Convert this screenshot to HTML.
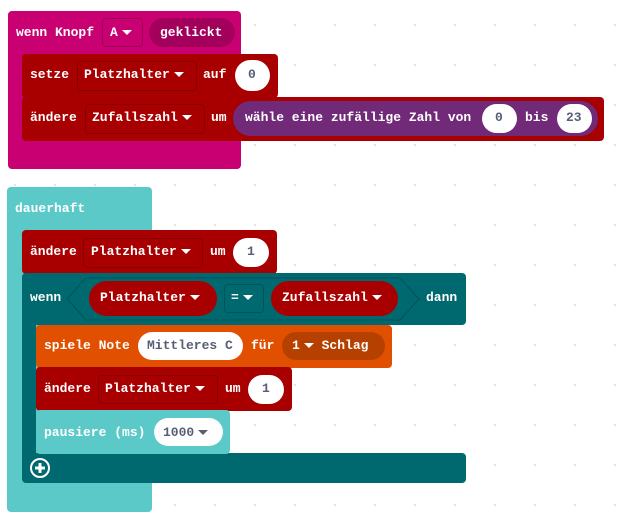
<!DOCTYPE html>
<html><head><meta charset="utf-8"><style>
html,body{margin:0;padding:0;width:617px;height:523px;overflow:hidden;background:#fff;
background-image:radial-gradient(circle,#e4e4e4 1px,transparent 1.5px);background-size:40px 40px;background-position:-5px 5px}
.b{position:absolute}
.t{position:absolute;font-family:"Liberation Mono",monospace;font-weight:bold;font-size:13px;color:#fff;white-space:pre;line-height:16px}
.dd{position:absolute;border:1px solid rgba(0,0,0,0.2);border-radius:4px;box-sizing:border-box}
.ov{position:absolute;background:#fff;border-radius:16px}
.pill{position:absolute;border-radius:18px}
.tri{display:inline-block;width:0;height:0;border-left:5px solid transparent;border-right:5px solid transparent;border-top:5px solid #fff;vertical-align:middle;margin-left:4px}
.dk{color:#575e75}
</style></head><body>
<!-- top event block -->
<div class="b" style="left:8px;top:11px;width:233px;height:158px;background:#C90072;border-radius:4px"></div>
<div class="t" style="left:16px;top:25px">wenn Knopf</div>
<div class="dd" style="left:102px;top:18px;width:41px;height:29px"></div>
<div class="t" style="left:110px;top:25px">A<span class="tri"></span></div>
<div class="pill" style="left:149px;top:18px;width:86px;height:29px;background:#A3005C"></div>
<div class="t" style="left:160px;top:25px">geklickt</div>

<div class="b" style="left:22px;top:54px;width:256px;height:44px;background:#A80000;border-radius:4px"></div>
<div class="t" style="left:30px;top:67px">setze</div>
<div class="dd" style="left:77px;top:61px;width:120px;height:30px"></div>
<div class="t" style="left:84px;top:67px">Platzhalter<span class="tri"></span></div>
<div class="t" style="left:203px;top:67px">auf</div>
<div class="ov" style="left:235px;top:60px;width:35px;height:31px"></div>
<div class="t dk" style="left:248px;top:67px">0</div>

<div class="b" style="left:22px;top:97px;width:582px;height:44px;background:#A80000;border-radius:4px"></div>
<div class="t" style="left:30px;top:110px">ändere</div>
<div class="dd" style="left:85px;top:104px;width:120px;height:30px"></div>
<div class="t" style="left:92px;top:110px">Zufallszahl<span class="tri"></span></div>
<div class="t" style="left:211px;top:110px">um</div>
<div class="pill" style="left:233px;top:101px;width:365px;height:35px;background:#702A78"></div>
<div class="t" style="left:245px;top:110px">wähle eine zufällige Zahl von</div>
<div class="ov" style="left:482px;top:104px;width:35px;height:29px"></div>
<div class="t dk" style="left:495px;top:110px">0</div>
<div class="t" style="left:525px;top:110px">bis</div>
<div class="ov" style="left:557px;top:104px;width:35px;height:29px"></div>
<div class="t dk" style="left:566px;top:110px">23</div>

<!-- dauerhaft -->
<div class="b" style="left:7px;top:187px;width:145px;height:325px;background:#5CC9C9;border-radius:4px"></div>
<div class="t" style="left:15px;top:201px">dauerhaft</div>

<div class="b" style="left:22px;top:230px;width:255px;height:44px;background:#A80000;border-radius:4px"></div>
<div class="t" style="left:30px;top:244px">ändere</div>
<div class="dd" style="left:83px;top:238px;width:120px;height:30px"></div>
<div class="t" style="left:91px;top:244px">Platzhalter<span class="tri"></span></div>
<div class="t" style="left:210px;top:244px">um</div>
<div class="ov" style="left:233px;top:238px;width:36px;height:29px"></div>
<div class="t dk" style="left:247px;top:244px">1</div>

<!-- wenn -->
<div class="b" style="left:22px;top:273px;width:444px;height:52px;background:#006970;border-radius:4px"></div>
<div class="b" style="left:22px;top:320px;width:14px;height:140px;background:#006970"></div>
<div class="b" style="left:22px;top:453px;width:444px;height:30px;background:#006970;border-radius:4px"></div>
<div class="t" style="left:30px;top:290px">wenn</div>
<svg class="b" style="left:66px;top:277px" width="354" height="44"><polygon points="20,1 334,1 353,22 334,43 20,43 1,22" fill="#006970" stroke="#005259" stroke-width="1"/></svg>
<div class="pill" style="left:89px;top:281px;width:128px;height:35px;background:#A80000"></div>
<div class="t" style="left:100px;top:290px">Platzhalter<span class="tri"></span></div>
<div class="dd" style="left:224px;top:284px;width:40px;height:29px"></div>
<div class="t" style="left:231px;top:290px">=<span class="tri"></span></div>
<div class="pill" style="left:271px;top:281px;width:127px;height:35px;background:#A80000"></div>
<div class="t" style="left:282px;top:290px">Zufallszahl<span class="tri"></span></div>
<div class="t" style="left:426px;top:290px">dann</div>

<div class="b" style="left:36px;top:325px;width:356px;height:43px;background:#E05000;border-radius:4px"></div>
<div class="t" style="left:44px;top:338px">spiele Note</div>
<div class="ov" style="left:138px;top:332px;width:105px;height:28px;border-radius:14px"></div>
<div class="t dk" style="left:147px;top:338px">Mittleres C</div>
<div class="t" style="left:251px;top:338px">für</div>
<div class="pill" style="left:282px;top:332px;width:103px;height:28px;background:#B54000"></div>
<div class="t" style="left:292px;top:338px">1<span class="tri"></span> Schlag</div>

<div class="b" style="left:36px;top:367px;width:256px;height:44px;background:#A80000;border-radius:4px"></div>
<div class="t" style="left:44px;top:381px">ändere</div>
<div class="dd" style="left:98px;top:375px;width:120px;height:29px"></div>
<div class="t" style="left:105px;top:381px">Platzhalter<span class="tri"></span></div>
<div class="t" style="left:225px;top:381px">um</div>
<div class="ov" style="left:248px;top:375px;width:36px;height:29px"></div>
<div class="t dk" style="left:262px;top:381px">1</div>

<div class="b" style="left:36px;top:410px;width:194px;height:44px;background:#5CC9C9;border-radius:4px"></div>
<div class="t" style="left:44px;top:425px">pausiere (ms)</div>
<div class="ov" style="left:154px;top:418px;width:69px;height:28px;border-radius:14px"></div>
<div class="t dk" style="left:163px;top:425px">1000<span class="tri" style="border-top-color:#575e75"></span></div>

<svg class="b" style="left:29px;top:457px" width="22" height="22"><circle cx="11" cy="11" r="9" fill="none" stroke="#fff" stroke-width="2"/><rect x="6" y="9.5" width="10" height="3" fill="#fff"/><rect x="9.5" y="6" width="3" height="10" fill="#fff"/></svg>
</body></html>
